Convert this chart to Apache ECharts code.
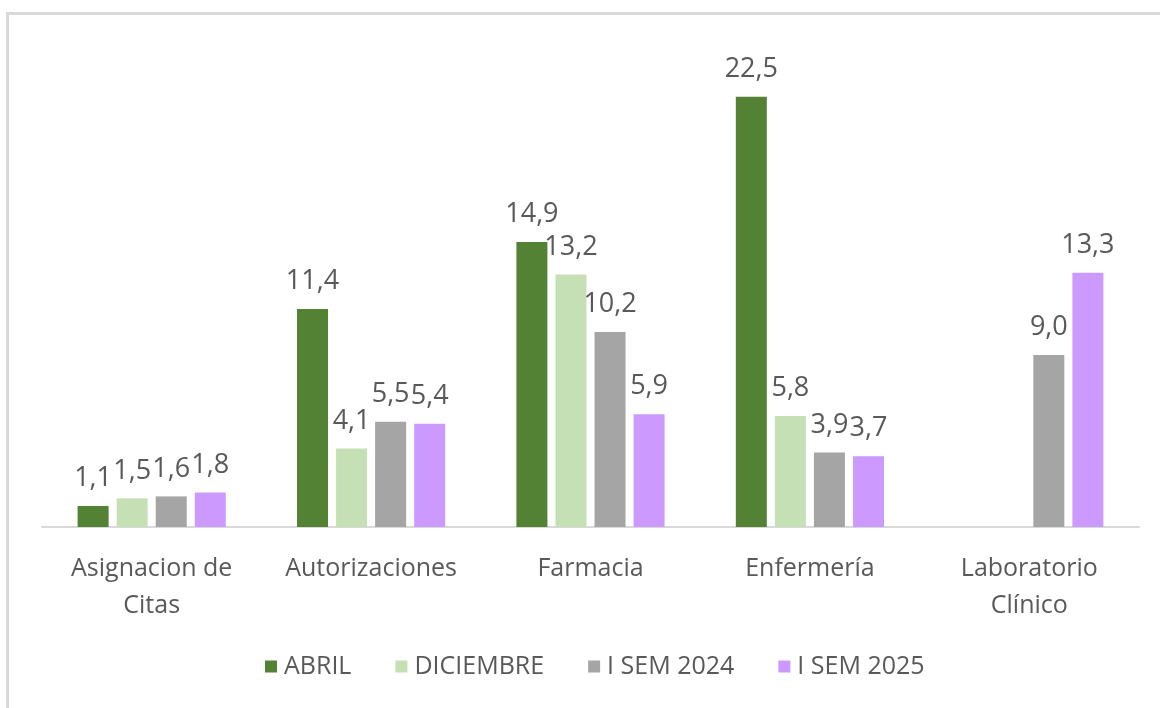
<!DOCTYPE html>
<html>
<head>
<meta charset="utf-8">
<script src="https://cdn.jsdelivr.net/npm/echarts@6/dist/echarts.min.js"></script>
<style>
	html,body{margin:0;padding:0;background:#fff;}
	#chart{width:1160px;height:708px;}
</style>
</head>
<body>
<div id="chart"></div>
<script>
var categories = ['Asignacion de\nCitas', 'Autorizaciones', 'Farmacia', 'Enfermería', 'Laboratorio\nClínico'];
var seriesNames = ['ABRIL', 'DICIEMBRE', 'I SEM 2024', 'I SEM 2025'];
var abril = [1.1, 11.4, 14.9, 22.5, null];
var diciembre = [1.5, 4.1, 13.2, 5.8, null];
var sem2024 = [1.6, 5.5, 10.2, 3.9, 9.0];
var sem2025 = [1.8, 5.4, 5.9, 3.7, 13.3];
var colors = ['#548235', '#C5E0B4', '#A5A5A5', '#CC99FF'];

var textColor = '#595959';
var fontName = 'Open Sans';

function makeSeries(name, data, color) {
	return {
		name: name,
		type: 'bar',
		data: data,
		barWidth: 31,
		barGap: '26%',
		itemStyle: {color: color},
		label: {
			show: true,
			position: 'top',
			distance: 14,
			color: textColor,
			fontFamily: fontName,
			fontSize: 27,
			formatter: function (p) {
				return p.value.toFixed(1).replace('.', ',');
			}
		}
	};
}

var myChart = echarts.init(document.getElementById('chart'));
var option = {
	animation: false,
	backgroundColor: '#fff',
	graphic: [{
		type: 'rect',
		shape: {x: 7.5, y: 13.5, width: 1300, height: 900},
		style: {fill: 'none', stroke: '#d9d9d9', lineWidth: 3},
		silent: true
	}],
	grid: {left: 42, right: 21, top: 49, bottom: 181},
	legend: {
		data: seriesNames,
		bottom: 24,
		left: 260,
		icon: 'rect',
		itemWidth: 12,
		itemHeight: 12,
		itemGap: 44,
		textStyle: {color: textColor, fontFamily: fontName, fontSize: 25, padding: [0, 0, 0, 2]}
	},
	xAxis: {
		type: 'category',
		data: categories,
		axisLine: {lineStyle: {color: '#d9d9d9', width: 2}},
		axisTick: {show: false},
		axisLabel: {
			color: textColor,
			fontFamily: fontName,
			fontSize: 25,
			lineHeight: 37,
			margin: 23,
			interval: 0
		}
	},
	yAxis: {
		type: 'value',
		min: 0,
		max: 25,
		show: false,
		splitLine: {show: false}
	},
	series: [
		makeSeries(seriesNames[0], abril, colors[0]),
		makeSeries(seriesNames[1], diciembre, colors[1]),
		makeSeries(seriesNames[2], sem2024, colors[2]),
		makeSeries(seriesNames[3], sem2025, colors[3])
	]
};
myChart.setOption(option);
</script>
</body>
</html>
